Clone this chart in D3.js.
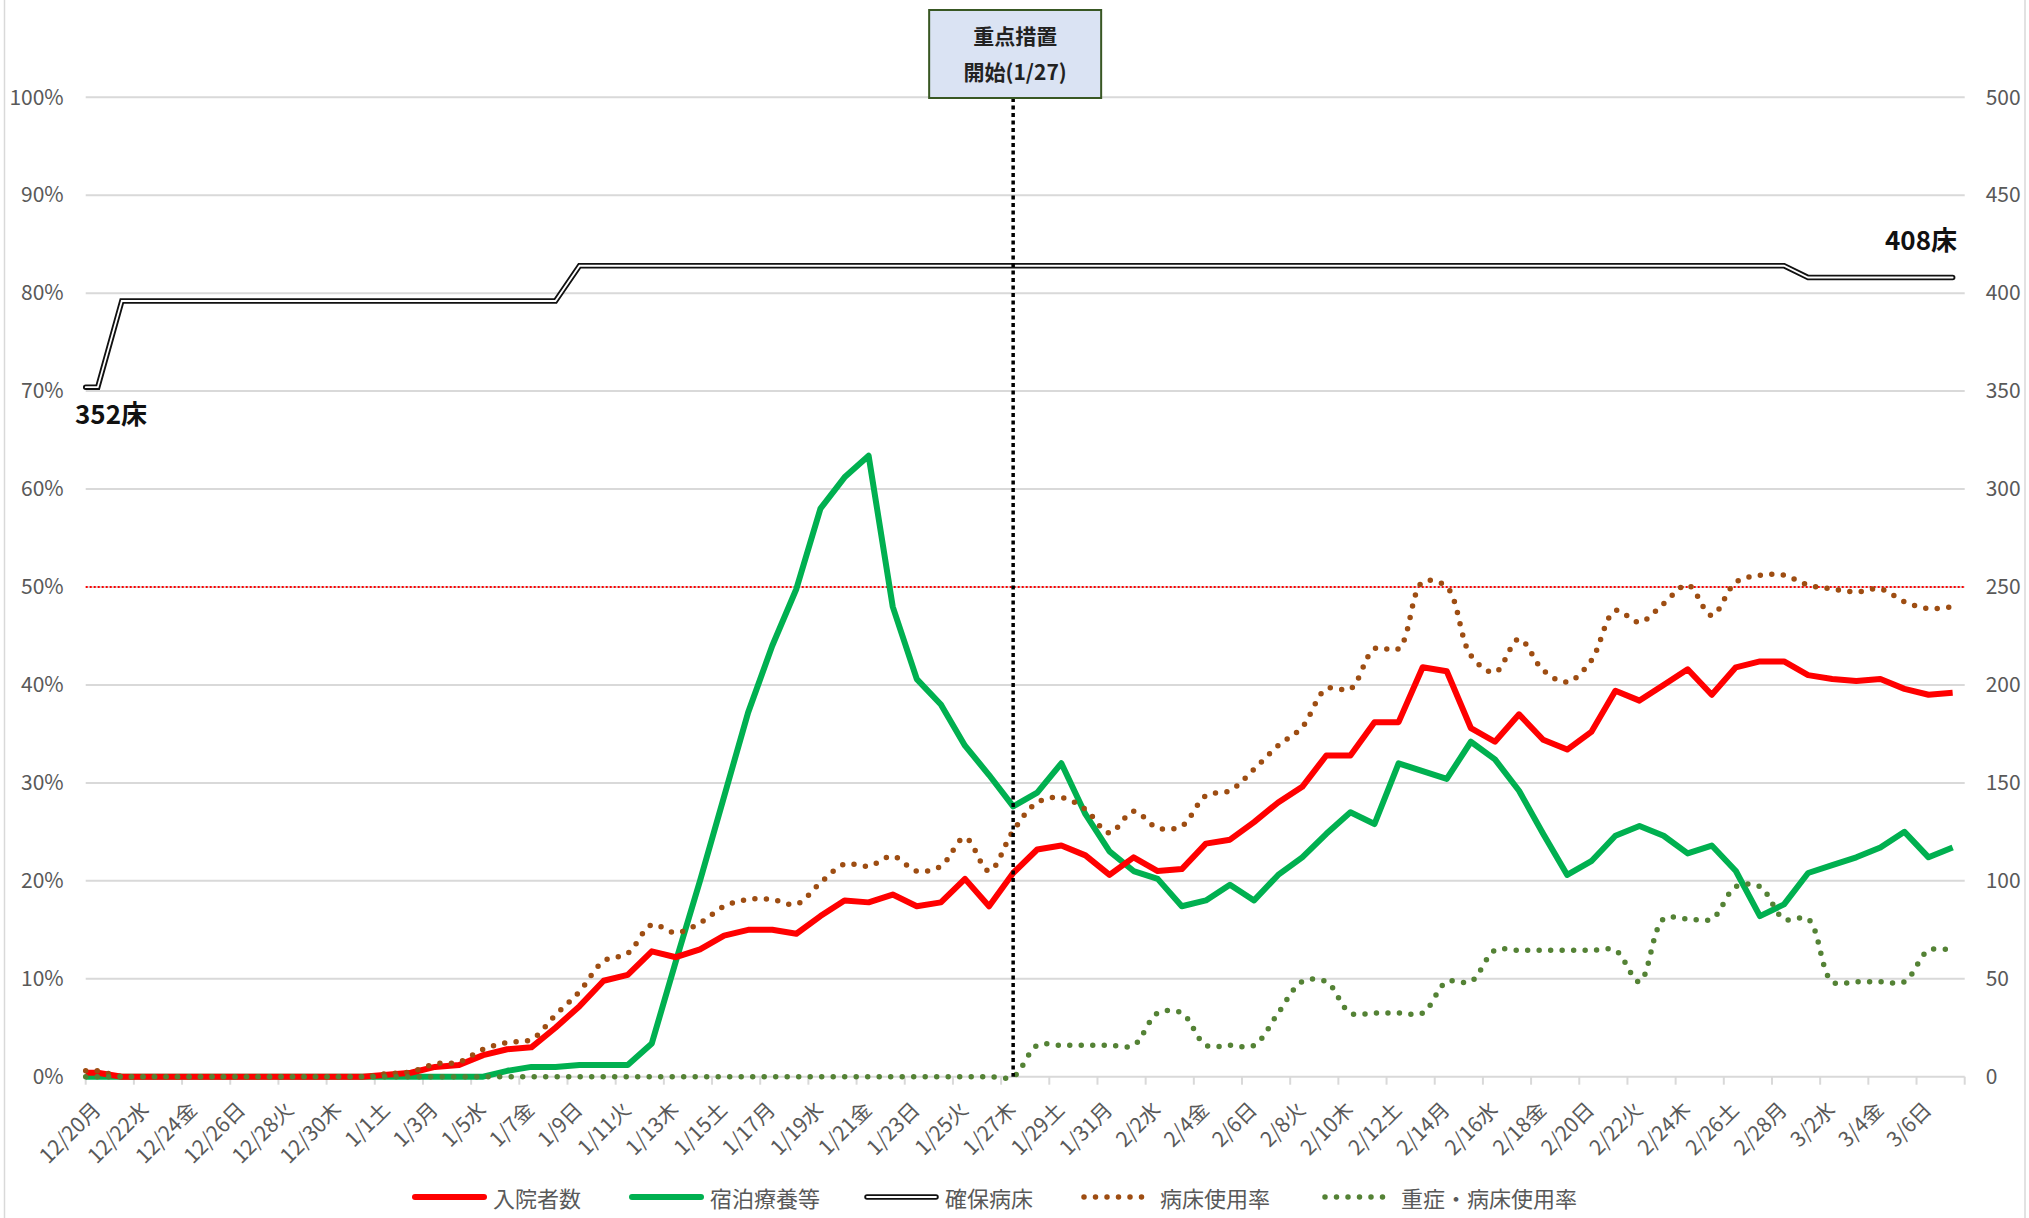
<!DOCTYPE html>
<html>
<head>
<meta charset="utf-8">
<script src="https://cdn.jsdelivr.net/npm/d3@7"></script>
<style>
  body { margin: 0; background: #fff; }
  svg { display: block; font-family: "Noto Sans CJK JP", "Noto Sans", sans-serif; }
</style>
</head>
<body>
<svg id="chart" width="2029" height="1218"></svg>
<script>
// --- Data ---
const days = [
  "12/20月","12/21火","12/22水","12/23木","12/24金","12/25土","12/26日","12/27月","12/28火","12/29水","12/30木","12/31金",
  "1/1土","1/2日","1/3月","1/4火","1/5水","1/6木","1/7金","1/8土","1/9日","1/10月","1/11火","1/12水","1/13木","1/14金",
  "1/15土","1/16日","1/17月","1/18火","1/19水","1/20木","1/21金","1/22土","1/23日","1/24月","1/25火","1/26水","1/27木",
  "1/28金","1/29土","1/30日","1/31月",
  "2/1火","2/2水","2/3木","2/4金","2/5土","2/6日","2/7月","2/8火","2/9水","2/10木","2/11金","2/12土","2/13日","2/14月",
  "2/15火","2/16水","2/17木","2/18金","2/19土","2/20日","2/21月","2/22火","2/23水","2/24木","2/25金","2/26土","2/27日","2/28月",
  "3/1火","3/2水","3/3木","3/4金","3/5土","3/6日","3/7月"
];

// 入院者数 (right axis, beds)
const inpatients = [
  2,0,0,0,0,0,0,0,0,0,0,0,
  1,2,5,6,11,14,15,25,36,49,52,64,61,65,
  72,75,75,73,82,90,89,93,87,89,101,87,104,
  116,118,113,103,
  112,105,106,119,121,130,140,148,164,164,181,181,209,207,
  178,171,185,172,167,176,197,192,200,208,195,209,212,212,
  205,203,202,203,198,195,196
];

// 宿泊療養等 (right axis)
const hotelCare = [
  0,0,0,0,0,0,0,0,0,0,0,0,
  0,0,0,0,0,3,5,5,6,6,6,17,59,100,
  143,186,220,249,290,306,317,240,203,190,169,154,138,
  145,160,134,115,
  105,101,87,90,98,90,103,112,124,135,129,160,156,152,
  171,162,146,124,103,110,123,128,123,114,118,105,82,88,
  104,108,112,117,125,112,117
];

// 確保病床 (right axis)
const securedBeds = [
  352,396,396,396,396,396,396,396,396,396,396,396,
  396,396,396,396,396,396,396,396,414,414,414,414,414,414,
  414,414,414,414,414,414,414,414,414,414,414,414,414,
  414,414,414,414,
  414,414,414,414,414,414,414,414,414,414,414,414,414,414,
  414,414,414,414,414,414,414,414,414,414,414,414,414,414,
  408,408,408,408,408,408,408
];

// 病床使用率 (left axis, %)
const bedUseRate = [
  0.6,0,0,0,0,0,0,0,0,0,0,0,
  0.3,0.5,1.3,1.5,2.8,3.5,3.8,6.3,8.7,11.8,12.6,15.5,14.7,15.7,
  17.4,18.1,18.1,17.6,19.8,21.7,21.5,22.5,21.0,21.5,24.4,21.0,25.1,
  28.0,28.5,27.3,24.9,
  27.1,25.4,25.6,28.7,29.2,31.4,33.8,35.7,39.6,39.6,43.7,43.7,50.5,50.0,
  43.0,41.3,44.7,41.5,40.3,42.5,47.6,46.4,48.3,50.2,47.1,50.5,51.2,51.2,
  50.2,49.8,49.5,49.8,48.5,47.8,48.0
];

// 重症・病床使用率 (left axis, %)
const severeUseRate = [
  0,0,0,0,0,0,0,0,0,0,0,0,
  0,0,0,0,0,0,0,0,0,0,0,0,0,0,
  0,0,0,0,0,0,0,0,0,0,0,0,0,
  3.2,3.2,3.2,3.2,
  3.2,6.5,6.5,3.2,3.2,3.2,6.5,9.7,9.7,6.5,6.5,6.5,6.5,9.7,
  9.7,12.9,12.9,12.9,12.9,12.9,12.9,9.7,16.1,16.1,16.1,19.4,19.4,16.1,
  16.1,9.7,9.7,9.7,9.7,12.9,12.9
];

const pctTicks = [0, 10, 20, 30, 40, 50, 60, 70, 80, 90, 100];
const bedTicks = [0, 50, 100, 150, 200, 250, 300, 350, 400, 450, 500];
const legendNames = ["入院者数", "宿泊療養等", "確保病床", "病床使用率", "重症・病床使用率"];
const eventDay = "1/27木";
const eventLines = ["重点措置", "開始(1/27)"];
const thresholdPct = 50;

// --- Styles ---
const gridColor = "#d9d9d9";
const axisTextColor = "#595959";
const red = "#ff0000";
const green = "#00b050";
const brown = "#9e4d12";
const darkGreen = "#548235";

const svg = d3.select("#chart");
const plot = { left: 85.7, right: 1964.7, top: 97.3, bottom: 1076.7 };

const x = d3.scaleBand().domain(days).range([plot.left, plot.right]);
const cx = d => x(d) + x.bandwidth() / 2;
const yPct = d3.scaleLinear().domain([0, 100]).range([plot.bottom, plot.top]);
const yBed = d3.scaleLinear().domain([0, 500]).range([plot.bottom, plot.top]);

// outer chart frame
svg.append("rect")
    .attr("x", 4.5).attr("y", -10).attr("width", 2020.5).attr("height", 1240)
    .style("fill", "none").style("stroke", gridColor).style("stroke-width", 1.5);

// gridlines
svg.append("g").selectAll("line").data(pctTicks).join("line")
    .attr("x1", plot.left).attr("x2", plot.right)
    .attr("y1", d => yPct(d)).attr("y2", d => yPct(d))
    .style("stroke", gridColor).style("stroke-width", 2);

// 50% threshold
svg.append("line")
    .attr("x1", plot.left).attr("x2", plot.right)
    .attr("y1", yPct(thresholdPct)).attr("y2", yPct(thresholdPct))
    .style("stroke", red).style("stroke-width", 2).style("stroke-dasharray", "2,2");

// left axis
const leftAxis = svg.append("g")
    .attr("transform", `translate(${plot.left},0)`)
    .call(d3.axisLeft(yPct).tickValues(pctTicks).tickFormat(d => d + "%").tickSize(0).tickPadding(22));
// right axis
const rightAxis = svg.append("g")
    .attr("transform", `translate(${plot.right},0)`)
    .call(d3.axisRight(yBed).tickValues(bedTicks).tickSize(0).tickPadding(21));
[leftAxis, rightAxis].forEach(g => {
    g.select(".domain").remove();
    g.selectAll("text").style("font-size", "21px").style("fill", axisTextColor)
        .style("font-family", "'Noto Sans CJK JP', sans-serif");
});

// x tick marks on band boundaries, every two days
const labelDays = days.filter((d, i) => i % 2 === 0);
const tickXs = labelDays.map(d => x(d)).concat([plot.right]);
svg.append("g").selectAll("line").data(tickXs).join("line")
    .attr("x1", d => d).attr("x2", d => d)
    .attr("y1", plot.bottom).attr("y2", plot.bottom + 8)
    .style("stroke", gridColor).style("stroke-width", 2);

// x labels, rotated
svg.append("g").selectAll("text").data(labelDays).join("text")
    .attr("transform", d => `translate(${cx(d) - 2},${plot.bottom + 28}) rotate(-45)`)
    .attr("text-anchor", "end")
    .attr("dominant-baseline", "central")
    .style("font-size", "21px").style("fill", axisTextColor)
    .text(d => d);

// --- Series ---
// each series is drawn from the left edge of the plot, like the source chart
const seriesPoints = vals => [[plot.left, vals[0]]].concat(vals.map((v, i) => [cx(days[i]), v]));
const bedLine = d3.line().x(d => d[0]).y(d => yBed(d[1]));
const pctSmooth = d3.line().x(d => d[0]).y(d => yPct(d[1])).curve(d3.curveCatmullRom.alpha(0.5));

svg.append("path").attr("d", bedLine(seriesPoints(hotelCare)))
    .style("fill", "none").style("stroke", green).style("stroke-width", 6).style("stroke-linejoin", "round");
svg.append("path").attr("d", bedLine(seriesPoints(inpatients)))
    .style("fill", "none").style("stroke", red).style("stroke-width", 6).style("stroke-linejoin", "round");

// secured beds: double line
svg.append("path").attr("d", bedLine(seriesPoints(securedBeds)))
    .style("fill", "none").style("stroke", "#111").style("stroke-width", 5.5).style("stroke-linecap", "round");
svg.append("path").attr("d", bedLine(seriesPoints(securedBeds)))
    .style("fill", "none").style("stroke", "#fff").style("stroke-width", 1.8).style("stroke-linecap", "round");

const dotStyle = (sel, color) => sel.style("fill", "none").style("stroke", color)
    .style("stroke-width", 5.5).style("stroke-linecap", "round").style("stroke-dasharray", "0,11.5");

dotStyle(svg.append("path").attr("d", pctSmooth(seriesPoints(bedUseRate))), brown);
dotStyle(svg.append("path").attr("d", pctSmooth(seriesPoints(severeUseRate))), darkGreen);

// end labels for secured beds
svg.append("text")
    .attr("x", 75).attr("y", yBed(securedBeds[0]) + 37)
    .style("font-size", "26px").style("font-weight", "bold").style("fill", "#111")
    .text(securedBeds[0] + "床");
svg.append("text")
    .attr("x", 1957).attr("y", yBed(securedBeds[securedBeds.length - 1]) - 28)
    .attr("text-anchor", "end")
    .style("font-size", "26px").style("font-weight", "bold").style("fill", "#111")
    .text(securedBeds[securedBeds.length - 1] + "床");

// --- Event marker ---
const ex = cx(eventDay);
const boxW = 172, boxH = 88, boxTop = 10;
svg.append("line")
    .attr("x1", ex).attr("x2", ex)
    .attr("y1", boxTop + boxH).attr("y2", plot.bottom)
    .style("stroke", "#000").style("stroke-width", 3.5).style("stroke-dasharray", "4,3.5");
svg.append("rect")
    .attr("x", ex - boxW / 2 + 2).attr("y", boxTop)
    .attr("width", boxW).attr("height", boxH)
    .style("fill", "#dae3f3").style("stroke", "#385723").style("stroke-width", 2);
svg.append("text")
    .attr("x", ex + 2).attr("text-anchor", "middle")
    .style("font-size", "21px").style("font-weight", "bold").style("fill", "#222")
    .selectAll("tspan").data(eventLines).join("tspan")
    .attr("x", ex + 2).attr("y", (d, i) => boxTop + 34 + i * 36)
    .text(d => d);

// --- Legend ---
const legendY = 1197;
const legendX = [415, 632, 867, 1082, 1323];
const sampleW = 69;
const legend = svg.append("g");
legendNames.forEach((name, i) => {
    const x0 = legendX[i], x1 = x0 + sampleW;
    if (i === 0 || i === 1) {
        legend.append("line").attr("x1", x0).attr("x2", x1).attr("y1", legendY).attr("y2", legendY)
            .style("stroke", i === 0 ? red : green).style("stroke-width", 6).style("stroke-linecap", "round");
    } else if (i === 2) {
        legend.append("line").attr("x1", x0).attr("x2", x1).attr("y1", legendY).attr("y2", legendY)
            .style("stroke", "#111").style("stroke-width", 5.5).style("stroke-linecap", "round");
        legend.append("line").attr("x1", x0).attr("x2", x1).attr("y1", legendY).attr("y2", legendY)
            .style("stroke", "#fff").style("stroke-width", 1.8).style("stroke-linecap", "round");
    } else {
        dotStyle(legend.append("line").attr("x1", x0 + 2).attr("x2", x1).attr("y1", legendY).attr("y2", legendY),
            i === 3 ? brown : darkGreen);
    }
    legend.append("text")
        .attr("x", x1 + 9).attr("y", legendY)
        .attr("dominant-baseline", "central")
        .style("font-size", "22px").style("fill", axisTextColor)
        .text(name);
});
</script>
</body>
</html>
